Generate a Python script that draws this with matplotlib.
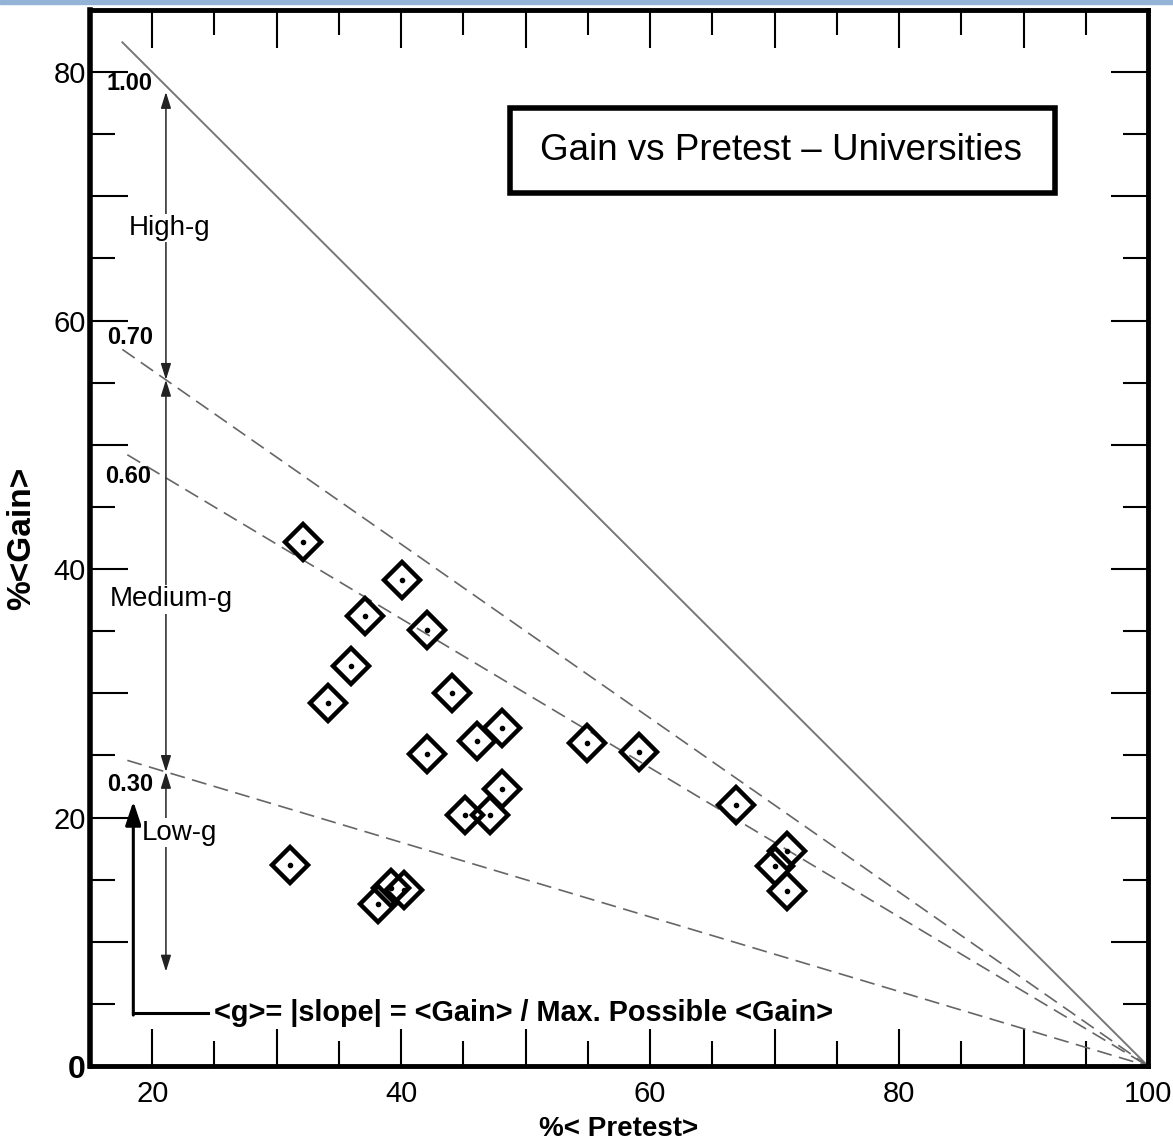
import matplotlib
matplotlib.use("Agg")
import matplotlib.pyplot as plt
from matplotlib.ticker import FixedLocator, FixedFormatter
from matplotlib.patches import Rectangle

plt.rcParams['font.family'] = ['Liberation Sans', 'DejaVu Sans']

# Точки: средний % претеста и средний % прироста по университетам
pretest = [32.1, 40.1, 37.1, 42.1, 36.0, 34.1, 44.1, 48.1, 46.1, 42.1, 54.9, 59.1,
           48.1, 45.1, 47.1, 66.9, 71.0, 70.0, 71.0, 31.1, 39.2, 40.2, 38.1]
gain = [42.2, 39.1, 36.2, 35.1, 32.2, 29.2, 30.0, 27.2, 26.2, 25.1, 26.0, 25.3,
        22.3, 20.2, 20.2, 21.0, 17.3, 16.1, 14.1, 16.2, 14.3, 14.2, 13.0]

# Линии постоянного <g>: Gain = g * (100 - Pretest)
g_values = [1.00, 0.70, 0.60, 0.30]
g_labels = ['1.00', '0.70', '0.60', '0.30']
g_start = [17.6, 17.6, 18.0, 18.0]

x_ticks = [20, 30, 40, 50, 60, 70, 80, 90, 100]
x_ticklabels = ['20', '', '40', '', '60', '', '80', '', '100']
y_ticks = [0, 10, 20, 30, 40, 50, 60, 70, 80]
y_ticklabels = ['0', '', '20', '', '40', '', '60', '', '80']

fig = plt.figure(figsize=(11.73, 11.48), dpi=100)
ax = fig.add_axes([90 / 1173, 82 / 1148, 1058 / 1173, 1056 / 1148])

# голубая полоса сверху (край слайда)
fig.patches.append(Rectangle((0, 1 - 4 / 1148), 1, 4 / 1148, transform=fig.transFigure,
                             color='#94b3d7', zorder=0))

for g, x0 in zip(g_values, g_start):
    xs = [x0, 100]
    ys = [g * (100 - x) for x in xs]
    if g == 1.0:
        ax.plot(xs, ys, color='#777777', lw=1.4, zorder=2)
    else:
        ax.plot(xs, ys, color='#666666', lw=1.2, linestyle=(0, (9, 4.5)), zorder=2)

g_text_pos = [(18.2, 79.05), (18.2, 58.66), (18.05, 47.46), (18.2, 22.64)]
for lab, (tx, ty) in zip(g_labels, g_text_pos):
    ax.text(tx, ty, lab, fontsize=17, fontweight='bold', ha='center', va='center', zorder=4)

# стрелки диапазонов
ax_x = 21.1
y_hi = g_values[0] * (100 - ax_x)
y_70 = g_values[1] * (100 - ax_x)
y_30 = g_values[3] * (100 - ax_x)
arrow_style = dict(arrowstyle='<|-|>,head_length=0.7,head_width=0.22', color='#222222',
                   lw=1.1, mutation_scale=14, shrinkA=0, shrinkB=0)
ax.annotate('', xy=(ax_x, y_hi - 0.5), xytext=(ax_x, y_70), arrowprops=arrow_style, zorder=3)
ax.annotate('', xy=(ax_x, y_70), xytext=(ax_x, y_30), arrowprops=arrow_style, zorder=3)
ax.annotate('', xy=(ax_x, y_30), xytext=(ax_x, 7.6), arrowprops=arrow_style, zorder=3)

white = dict(facecolor='white', edgecolor='none', pad=1)
ax.text(21.43, 67.45, 'High-g', fontsize=20, ha='center', va='center', bbox=white, zorder=4)
ax.text(21.5, 37.55, 'Medium-g', fontsize=20, ha='center', va='center', bbox=white, zorder=4)
ax.text(22.2, 18.78, 'Low-g', fontsize=20, ha='center', va='center', bbox=white, zorder=4)

# L-образная стрелка с определением <g>
ax.plot([18.48, 24.5], [4.27, 4.27], color='black', lw=2.2, zorder=3)
ax.annotate('', xy=(18.48, 21.3), xytext=(18.48, 4.1),
            arrowprops=dict(arrowstyle='-|>,head_length=0.9,head_width=0.3', color='black',
                            lw=2.2, mutation_scale=16, shrinkA=0, shrinkB=0), zorder=3)
ax.text(25.0, 4.27, '<g>= |slope| = <Gain> / Max. Possible <Gain>', fontsize=20.8,
        fontweight='bold', ha='left', va='center', zorder=4)

# данные
ax.plot(pretest, gain, linestyle='none', marker='D', markersize=18.5, mfc='none',
        mec='black', mew=3.2, zorder=5)
ax.plot(pretest, gain, linestyle='none', marker='o', markersize=3, color='black', zorder=5)

# рамка с заголовком
ax.add_patch(Rectangle((0.397, 0.8267), 0.515, 0.0803, transform=ax.transAxes,
                       facecolor='white', edgecolor='black', lw=4, zorder=6))
ax.text(0.653, 0.8665, 'Gain vs Pretest \u2013 Universities', transform=ax.transAxes,
        fontsize=26.5, ha='center', va='center', zorder=7)

ax.set_xlim(15, 100)
ax.set_ylim(0, 85)

ax.xaxis.set_major_locator(FixedLocator(x_ticks))
ax.xaxis.set_major_formatter(FixedFormatter(x_ticklabels))
ax.xaxis.set_minor_locator(FixedLocator(list(range(25, 100, 10))))
ax.yaxis.set_major_locator(FixedLocator(y_ticks))
ax.yaxis.set_major_formatter(FixedFormatter(y_ticklabels))
ax.yaxis.set_minor_locator(FixedLocator(list(range(5, 85, 10))))

ax.tick_params(which='both', direction='in', top=True, right=True, width=1.5, labelsize=21)
ax.tick_params(which='major', length=27)
ax.tick_params(which='minor', length=18)
ax.tick_params(axis='x', pad=10)
ax.tick_params(axis='y', pad=3)

for t in ax.xaxis.get_major_ticks() + ax.xaxis.get_minor_ticks():
    t.tick1line.set_color('#666666')
    t.tick2line.set_color('black')

for side in ['left', 'bottom', 'top', 'right']:
    ax.spines[side].set_linewidth(3.5)
ax.spines['left'].set_linewidth(4)

ax.set_xlabel('%< Pretest>', fontsize=20, fontweight='bold', labelpad=6)
ax.set_ylabel('%<Gain>', fontsize=24, fontweight='bold', labelpad=12)

for lab in ax.get_yticklabels():
    if lab.get_text() == '0':
        lab.set_fontweight('bold')
        lab.set_fontsize(23)

fig.savefig('out.png', dpi=100)
